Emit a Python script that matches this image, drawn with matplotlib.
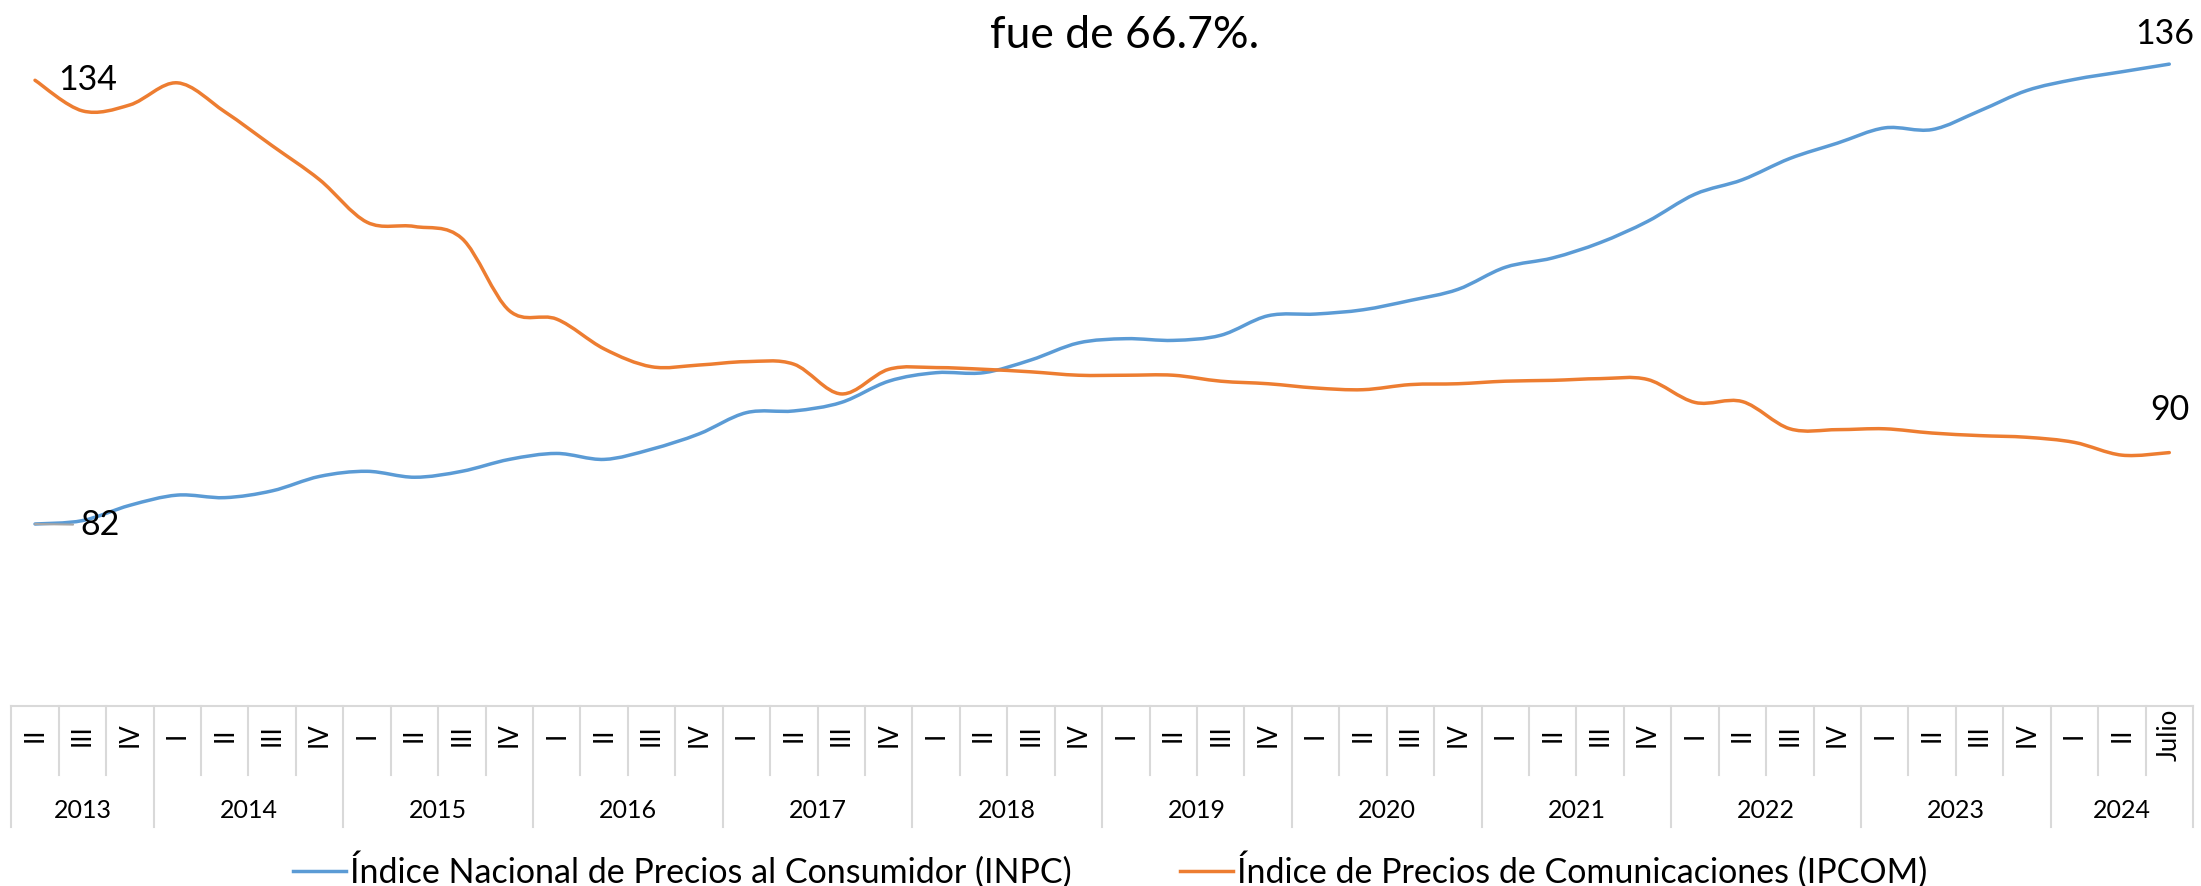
import matplotlib.pyplot as plt
import matplotlib.transforms as mtransforms
from matplotlib.lines import Line2D
from matplotlib.path import Path
from matplotlib.patches import PathPatch

plt.rcParams['font.family'] = ['Lato', 'DejaVu Sans']

# Data
years = ['2013', '2014', '2015', '2016', '2017', '2018',
         '2019', '2020', '2021', '2022', '2023', '2024']
year_sizes = [3, 4, 4, 4, 4, 4, 4, 4, 4, 4, 4, 3]
quarters = (['II', 'III', 'IV'] + ['I', 'II', 'III', 'IV'] * 10
            + ['I', 'II', 'Julio'])

inpc = [82.0, 82.4, 84.2, 85.4, 85.1, 85.9, 87.6, 88.2, 87.5, 88.2,
        89.6, 90.3, 89.6, 90.8, 92.6, 95.1, 95.3, 96.3, 98.8, 99.8,
        99.8, 101.3, 103.3, 103.8, 103.6, 104.2, 106.5, 106.7, 107.2, 108.3,
        109.6, 112.2, 113.3, 115.1, 117.6, 120.8, 122.5, 125.0, 126.8, 128.6,
        128.4, 130.6, 133.0, 134.3, 135.2, 136.1]
ipcom = [134.2, 130.6, 131.3, 133.9, 130.5, 126.5, 122.5, 117.5, 117.0, 115.6,
         107.1, 106.1, 102.6, 100.5, 100.7, 101.1, 100.8, 97.3, 100.2, 100.4,
         100.2, 99.9, 99.5, 99.5, 99.5, 98.8, 98.5, 98.0, 97.8, 98.4,
         98.5, 98.8, 98.9, 99.1, 99.0, 96.3, 96.4, 93.2, 93.1, 93.2,
         92.7, 92.4, 92.2, 91.6, 90.1, 90.4]

title = 'fue de 66.7%.'
label_inpc = 'Índice Nacional de Precios al Consumidor (INPC)'
label_ipcom = 'Índice de Precios de Comunicaciones (IPCOM)'

BLUE = '#5B9BD5'
ORANGE = '#ED7D31'
GRID = '#D9D9D9'


def smooth_path(vals):
    # Excel-like smoothed line: cubic bezier through every point
    n = len(vals)
    verts = [(0, vals[0])]
    codes = [Path.MOVETO]
    for i in range(n - 1):
        a = max(i - 1, 0)
        d = min(i + 2, n - 1)
        c1 = (i + (i + 1 - a) / 6, vals[i] + (vals[i + 1] - vals[a]) / 6)
        c2 = (i + 1 - (d - i) / 6, vals[i + 1] - (vals[d] - vals[i]) / 6)
        verts += [c1, c2, (i + 1, vals[i + 1])]
        codes += [Path.CURVE4] * 3
    return Path(verts, codes)


W, H = 2201, 886
fig = plt.figure(figsize=(W / 100, H / 100), dpi=100)
ax = fig.add_axes([11.3 / W, 1 - 706 / H, (2193 - 11.3) / W, (706 - 20) / H])

n = len(quarters)
ax.set_xlim(-0.5, n - 0.5)
ax.set_ylim(60.59, 141.29)

for vals, color in [(inpc, BLUE), (ipcom, ORANGE)]:
    ax.add_patch(PathPatch(smooth_path(vals), fill=False, edgecolor=color,
                           lw=2.5, capstyle='round', joinstyle='round', zorder=3))

# Axis look
for s in ['top', 'left', 'right']:
    ax.spines[s].set_visible(False)
ax.spines['bottom'].set_color(GRID)
ax.spines['bottom'].set_linewidth(1.5)
ax.set_yticks([])
ax.set_xticks(range(n))
ax.set_xticklabels(quarters, rotation=90, va='center', ha='center', fontsize=18.5)
ax.tick_params(axis='x', length=0, pad=21)

# Category table below the axis
tr = mtransforms.blended_transform_factory(ax.transData, fig.transFigure)
y_top = 1 - 706 / H
y_q = 1 - 775 / H
y_y = 1 - 827 / H
bounds = [-0.5]
for size in year_sizes:
    bounds.append(bounds[-1] + size)
for k in range(1, n):
    xb = k - 0.5
    if xb not in bounds:
        ax.add_line(Line2D([xb, xb], [y_top, y_q], transform=tr, color=GRID,
                           lw=1.5, clip_on=False))
for xb in bounds:
    ax.add_line(Line2D([xb, xb], [y_top, y_y], transform=tr, color=GRID,
                       lw=1.5, clip_on=False))
for yr, x0, x1 in zip(years, bounds[:-1], bounds[1:]):
    ax.text((x0 + x1) / 2, 1 - 810 / H, yr, transform=tr, ha='center',
            va='center', fontsize=18)

# Data labels
ax.annotate(f'{ipcom[0]:.0f}', xy=(0, ipcom[0]), xytext=(23, 0),
            textcoords='offset pixels', ha='left', va='center', fontsize=24.5)
ax.annotate(f'{inpc[0]:.0f}', xy=(0, inpc[0]), xytext=(45, -1),
            textcoords='offset pixels', ha='left', va='center', fontsize=24.5,
            arrowprops=dict(arrowstyle='-', color='#A6A6A6', lw=1.5,
                            shrinkA=3, shrinkB=0))
ax.annotate(f'{inpc[-1]:.0f}', xy=(n - 1, inpc[-1]), xytext=(-5, 14),
            textcoords='offset pixels', ha='center', va='bottom', fontsize=24.5)
ax.annotate(f'{ipcom[-1]:.0f}', xy=(n - 1, ipcom[-1]), xytext=(1, 27),
            textcoords='offset pixels', ha='center', va='bottom', fontsize=24.5)

fig.text(1125 / W, 1 - 48 / H, title, ha='center', va='baseline', fontsize=32)

legend_elements = [Line2D([0], [0], color=BLUE, lw=2.5, label=label_inpc),
                   Line2D([0], [0], color=ORANGE, lw=2.5, label=label_ipcom)]
fig.legend(handles=legend_elements, loc='center', bbox_to_anchor=(1110 / W, 1 - 870 / H),
           ncol=2, frameon=False, fontsize=24.5, handlelength=1.55,
           handletextpad=0.12, columnspacing=3.2, borderpad=0, borderaxespad=0)

fig.savefig('out.png', dpi=100)
plt.close(fig)
